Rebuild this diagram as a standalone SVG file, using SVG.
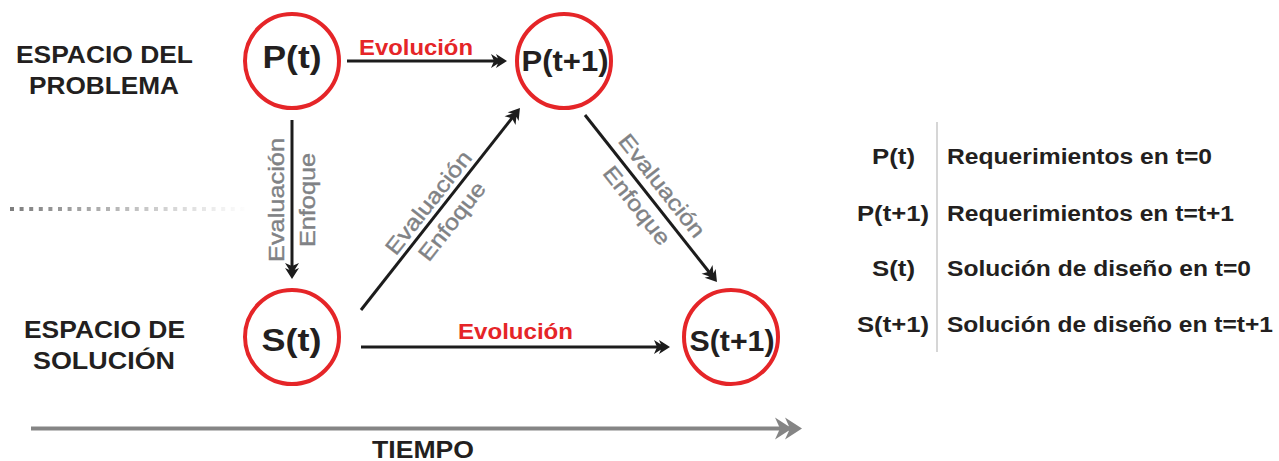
<svg xmlns="http://www.w3.org/2000/svg" width="1279" height="461" viewBox="0 0 1279 461">
  <defs>
    <style>
      .ring { fill: #ffffff; stroke: #e52528; stroke-width: 4; }
      .node-label { font-family: "Liberation Sans", Arial, sans-serif; font-weight: bold; fill: #231f20; text-anchor: middle; }
      .space-label { font-family: "Liberation Sans", Arial, sans-serif; font-weight: bold; font-size: 23px; fill: #231f20; text-anchor: middle; }
      .evo { font-family: "Liberation Sans", Arial, sans-serif; font-weight: bold; font-size: 22px; fill: #e52528; text-anchor: middle; }
      .eval { font-family: "Liberation Sans", Arial, sans-serif; font-size: 22px; fill: #808285; stroke: #808285; stroke-width: 0.4; text-anchor: middle; }
      .link { fill: none; stroke: #1c1c1c; stroke-width: 3; marker-end: url(#head); }
      .legend { font-family: "Liberation Sans", Arial, sans-serif; font-weight: bold; font-size: 22px; fill: #231f20; }
    </style>
    <!-- double-chevron arrow head; tip sits 8 units beyond the path end -->
    <marker id="head" markerUnits="userSpaceOnUse" viewBox="-18 -9 20 18" markerWidth="20" markerHeight="18" refX="-8" refY="0" orient="auto">
      <path d="M0,0 L-11,-7 L-8,0 L-11,7 Z M-5,0 L-16,-7 L-13,0 L-16,7 Z" fill="#1c1c1c"/>
    </marker>
    <marker id="timeHead" markerUnits="userSpaceOnUse" viewBox="-30 -13 32 26" markerWidth="32" markerHeight="26" refX="-12" refY="0" orient="auto">
      <path d="M0,0 L-17,-11 L-12,0 L-17,11 Z M-10,0 L-27,-11 L-22,0 L-27,11 Z" fill="#858585"/>
    </marker>
    <linearGradient id="fade" gradientUnits="userSpaceOnUse" x1="10" y1="0" x2="248" y2="0">
      <stop offset="0" stop-color="#7d7d7d"/>
      <stop offset="1" stop-color="#ffffff"/>
    </linearGradient>
  </defs>

  <rect width="1279" height="461" fill="#ffffff"/>

  <!-- row titles -->
  <g id="problem-space">
    <text class="space-label" x="104.5" y="63" textLength="177" lengthAdjust="spacingAndGlyphs">ESPACIO DEL</text>
    <text class="space-label" x="104" y="94" textLength="150" lengthAdjust="spacingAndGlyphs">PROBLEMA</text>
  </g>
  <g id="solution-space">
    <text class="space-label" x="104.5" y="338" textLength="161" lengthAdjust="spacingAndGlyphs">ESPACIO DE</text>
    <text class="space-label" x="104" y="369" textLength="142" lengthAdjust="spacingAndGlyphs">SOLUCIÓN</text>
  </g>

  <!-- fading divider between the two spaces -->
  <g id="divider">
    <line x1="10" y1="209" x2="248" y2="209" stroke="url(#fade)" stroke-width="4" stroke-dasharray="4 5.6"/>
  </g>

  <!-- connectors -->
  <g id="connectors">
    <path class="link" d="M347,61 L499,61"/>
    <path class="link" d="M361,347 L662,347"/>
    <path class="link" d="M292,120 L292,271"/>
    <path class="link" d="M361,310 L515,114.3"/>
    <path class="link" d="M585,115 L712,275.7"/>

    <text class="evo" x="416" y="55" textLength="114" lengthAdjust="spacingAndGlyphs">Evolución</text>
    <text class="evo" x="515.5" y="339" textLength="115" lengthAdjust="spacingAndGlyphs">Evolución</text>

    <g transform="translate(292,200) rotate(-90)">
      <text class="eval" x="0" y="-8" textLength="124" lengthAdjust="spacingAndGlyphs">Evaluación</text>
      <text class="eval" x="0" y="23" textLength="94" lengthAdjust="spacingAndGlyphs">Enfoque</text>
    </g>
    <g transform="translate(439,211) rotate(-51.8)">
      <text class="eval" x="0" y="-6" textLength="125" lengthAdjust="spacingAndGlyphs">Evaluación</text>
      <text class="eval" x="0" y="24" textLength="94" lengthAdjust="spacingAndGlyphs">Enfoque</text>
    </g>
    <g transform="translate(649,196) rotate(51.7)">
      <text class="eval" x="0" y="-9" textLength="125" lengthAdjust="spacingAndGlyphs">Evaluación</text>
      <text class="eval" x="0" y="23" textLength="94" lengthAdjust="spacingAndGlyphs">Enfoque</text>
    </g>
  </g>

  <!-- states -->
  <g id="node-pt">
    <circle class="ring" cx="292" cy="61" r="47"/>
    <text class="node-label" x="292" y="68" font-size="31" textLength="59" lengthAdjust="spacingAndGlyphs">P(t)</text>
  </g>
  <g id="node-pt1">
    <circle class="ring" cx="564" cy="61" r="47"/>
    <text class="node-label" x="565" y="71" font-size="29" textLength="87" lengthAdjust="spacingAndGlyphs">P(t+1)</text>
  </g>
  <g id="node-st">
    <circle class="ring" cx="292" cy="337" r="47"/>
    <text class="node-label" x="291.5" y="351" font-size="31" textLength="60" lengthAdjust="spacingAndGlyphs">S(t)</text>
  </g>
  <g id="node-st1">
    <circle class="ring" cx="731" cy="337" r="47"/>
    <text class="node-label" x="732" y="351" font-size="30" textLength="85" lengthAdjust="spacingAndGlyphs">S(t+1)</text>
  </g>

  <!-- time axis -->
  <g id="time-axis">
    <line x1="31" y1="428.5" x2="790" y2="428.5" stroke="#858585" stroke-width="4" marker-end="url(#timeHead)"/>
    <text x="423" y="458" font-family="Liberation Sans, Arial, sans-serif" font-weight="bold" font-size="24" fill="#231f20" text-anchor="middle" textLength="102" lengthAdjust="spacingAndGlyphs">TIEMPO</text>
  </g>

  <!-- legend -->
  <g id="legend">
    <line x1="937" y1="122" x2="937" y2="352" stroke="#c8c8c8" stroke-width="1.5"/>
    <text class="legend" x="893.5" y="164" text-anchor="middle" textLength="43" lengthAdjust="spacingAndGlyphs">P(t)</text>
    <text class="legend" x="893" y="221" text-anchor="middle" textLength="72" lengthAdjust="spacingAndGlyphs">P(t+1)</text>
    <text class="legend" x="893.5" y="276" text-anchor="middle" textLength="43" lengthAdjust="spacingAndGlyphs">S(t)</text>
    <text class="legend" x="893" y="332" text-anchor="middle" textLength="72" lengthAdjust="spacingAndGlyphs">S(t+1)</text>
    <text class="legend" x="947" y="164" textLength="265" lengthAdjust="spacingAndGlyphs">Requerimientos en t=0</text>
    <text class="legend" x="947" y="221" textLength="287" lengthAdjust="spacingAndGlyphs">Requerimientos en t=t+1</text>
    <text class="legend" x="947" y="276" textLength="304" lengthAdjust="spacingAndGlyphs">Solución de diseño en t=0</text>
    <text class="legend" x="947" y="332" textLength="326" lengthAdjust="spacingAndGlyphs">Solución de diseño en t=t+1</text>
  </g>
</svg>
